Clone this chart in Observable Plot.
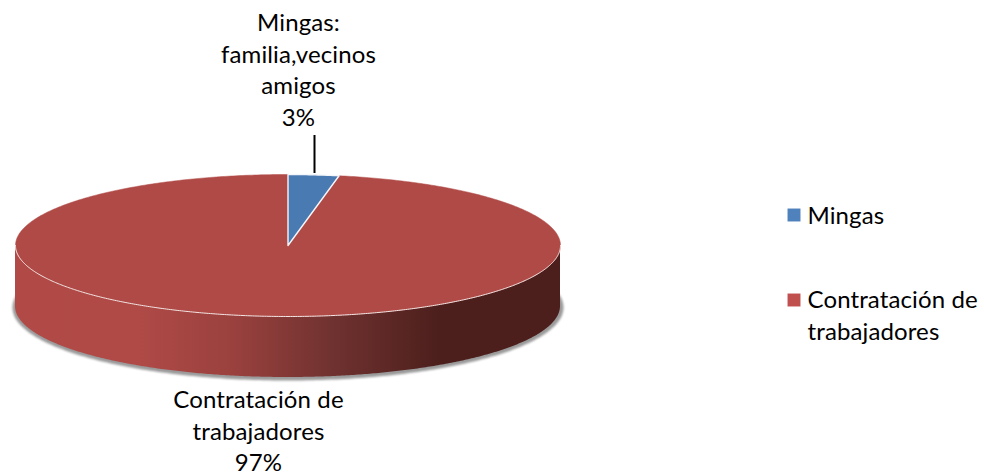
<!DOCTYPE html>
<html>
<head>
<meta charset="utf-8">
<style>html,body{margin:0;padding:0;background:#fff}svg{display:block}svg text{letter-spacing:.12px}</style>
<script src="https://cdn.jsdelivr.net/npm/d3@7"></script>
<script src="https://cdn.jsdelivr.net/npm/@observablehq/plot@0.6"></script>
</head>
<body>
<script>
const categories = ["Mingas", "Contratación de trabajadores"];
const values = [3, 97];
const sliceColors = ["#4a7ab2", "#b04a47"];
const legendColors = ["#4f81bd", "#c0504d"];
const dataLabels = ["Mingas:\nfamilia,vecinos\namigos\n3%", "Contratación de\ntrabajadores\n97%"];
const legendLabels = ["Mingas", "Contratación de\ntrabajadores"];

// pie geometry
const cx = 287.5, cy = 245, rx = 272.5, ry = 71, depth = 61;
const total = d3.sum(values);
const px = (a, k = 1) => cx + k * rx * Math.sin(a);
const py = (a) => cy - ry * Math.cos(a);

let acc = 0;
const slices = values.map((v, i) => {
  const a0 = acc / total * 2 * Math.PI;
  acc += v;
  const a1 = acc / total * 2 * Math.PI;
  const n = Math.max(2, Math.ceil((a1 - a0) * 90));
  const pts = [{x: cx, y: cy, name: categories[i]}];
  for (let j = 0; j <= n; ++j) {
    const a = a0 + (a1 - a0) * j / n;
    pts.push({x: px(a), y: py(a), name: categories[i]});
  }
  pts.push({x: cx, y: cy, name: categories[i]});
  return pts;
});

const front = d3.range(0, 361).map(d => {
  const a = Math.PI / 2 + d / 360 * Math.PI;
  return {x: px(a), y1: py(a), y2: py(a) + depth};
});
const shadow = d3.range(0, 361).map(d => {
  const a = d / 360 * 2 * Math.PI;
  return {x: cx + (rx + 3) * Math.sin(a), y: cy + depth + 1 - (ry + 2) * Math.cos(a)};
});
const rim = front.map(d => ({x: d.x, y: d.y1}));

const font = "Lato, Carlito, Calibri, sans-serif";
const fontSize = 24;
const lineHeight = 1.32;

const chart = Plot.plot({
  width: 984,
  height: 476,
  margin: 0,
  x: {domain: [0, 984], range: [0, 984], axis: null},
  y: {domain: [0, 476], range: [0, 476], axis: null},
  marks: [
    () => {
      const defs = d3.create("svg:defs");
      const g = defs.append("linearGradient").attr("id", "wall").attr("x1", 0).attr("x2", 1).attr("y1", 0).attr("y2", 0);
      [[0, "#b14a47"], [0.22, "#b04a47"], [0.4, "#9a413e"], [0.58, "#703230"], [0.78, "#4c1f1c"], [1, "#4c1f1c"]]
        .forEach(([o, c]) => g.append("stop").attr("offset", o).attr("stop-color", c));
      return defs.node();
    },
    Plot.line(shadow, {x: "x", y: "y", fill: "#9a9a9a", stroke: "none", imageFilter: "blur(1.2px)"}),
    Plot.areaY(front, {x: "x", y1: "y1", y2: "y2", fill: "url(#wall)"}),
    Plot.line(slices[1], {x: "x", y: "y", fill: sliceColors[1], stroke: sliceColors[1], strokeWidth: 0.5}),
    Plot.line(rim, {x: "x", y: "y", stroke: "#f3e6e4", strokeWidth: 1}),
    Plot.line(slices[0], {x: "x", y: "y", fill: sliceColors[0], stroke: "#f4f6fa", strokeWidth: 1.4}),
    Plot.ruleX([314], {y1: 135, y2: 173, stroke: "#000", strokeWidth: 2}),
    Plot.text([dataLabels[0]], {x: 298, y: 8, text: d => d, lineAnchor: "top", textAnchor: "middle", fill: "#000", fontSize, fontFamily: font, lineHeight}),
    Plot.text([dataLabels[1]], {x: 258, y: 385, text: d => d, lineAnchor: "top", textAnchor: "middle", fill: "#000", fontSize, fontFamily: font, lineHeight}),
    Plot.dot([0], {x: 793.5, y: 214.5, symbol: "square", r: 7.3, fill: legendColors[0], stroke: "none"}),
    Plot.dot([1], {x: 793.5, y: 299.5, symbol: "square", r: 7.3, fill: legendColors[1], stroke: "none"}),
    Plot.text([legendLabels[0]], {x: 807, y: 201, text: d => d, lineAnchor: "top", textAnchor: "start", fill: "#000", fontSize, fontFamily: font, lineHeight}),
    Plot.text([legendLabels[1]], {x: 807, y: 285, text: d => d, lineAnchor: "top", textAnchor: "start", fill: "#000", fontSize, fontFamily: font, lineHeight})
  ]
});
document.body.appendChild(chart);
</script>
</body>
</html>
